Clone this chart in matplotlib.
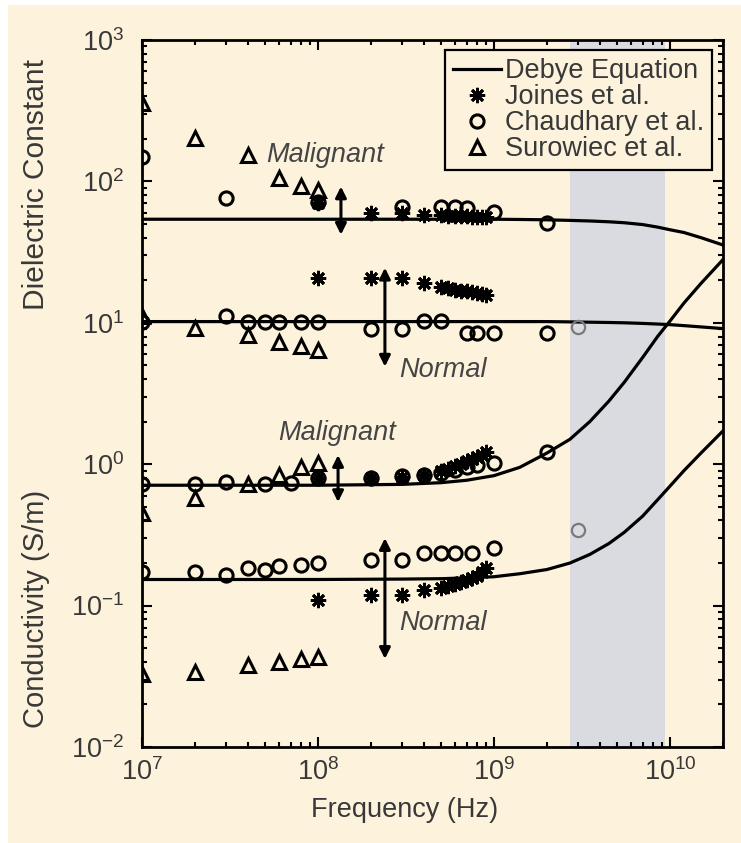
import matplotlib
matplotlib.use('Agg')
import matplotlib.pyplot as plt
from matplotlib.patches import Rectangle
from matplotlib.ticker import LogLocator, NullFormatter

plt.rcParams['font.family'] = ['Liberation Sans', 'DejaVu Sans']
plt.rcParams['mathtext.fontset'] = 'custom'
plt.rcParams['mathtext.rm'] = 'Liberation Sans'
plt.rcParams['mathtext.it'] = 'Liberation Sans:italic'
plt.rcParams['mathtext.default'] = 'regular'

# Debye equation curves (frequency in Hz)
debye_f = [1e7, 1e8, 3e8, 5e8, 7e8, 1e9, 1.4e9, 2e9, 2.7e9, 3.5e9, 4.5e9,
           5.5e9, 7e9, 8.5e9, 1e10, 1.2e10, 1.5e10, 2e10]
debye_eps_mal = [54, 54, 54, 54, 54, 54, 53.8, 53.5, 53, 52.5, 51.8,
                 51, 49.5, 47.5, 45.5, 43.5, 40, 35.5]
debye_eps_nor = [10.2, 10.2, 10.2, 10.2, 10.2, 10.2, 10.2, 10.2, 10.15, 10.1, 10.05,
                 10.0, 9.9, 9.8, 9.7, 9.55, 9.35, 9.1]
debye_sig_mal = [0.71, 0.71, 0.72, 0.74, 0.77, 0.83, 0.95, 1.2, 1.5, 2.0, 2.8,
                 3.8, 5.7, 8.0, 10.3, 13.8, 19.0, 28.0]
debye_sig_nor = [0.153, 0.153, 0.154, 0.155, 0.157, 0.16, 0.168, 0.18, 0.2, 0.23, 0.275,
                 0.33, 0.43, 0.56, 0.7, 0.9, 1.2, 1.72]

# Joines et al.
joines_f = [1e8, 2e8, 3e8, 4e8, 5e8, 5.5e8, 6e8, 6.5e8, 7e8, 7.5e8, 8e8, 8.5e8, 9e8]
joines_eps_mal = [70, 60, 60, 58, 58, 57, 57, 57, 57, 56, 56, 56, 56]
joines_eps_nor = [20.8, 20.8, 20.8, 19.2, 18.0, 17.5, 17.1, 16.9, 16.7, 16.5, 16.3, 16.0, 15.8]
joines_sig_mal = [0.80, 0.80, 0.81, 0.84, 0.90, 0.93, 0.97, 1.01, 1.05, 1.09, 1.13, 1.17, 1.21]
joines_sig_nor = [0.109, 0.118, 0.118, 0.128, 0.133, 0.137, 0.142, 0.147, 0.151, 0.157, 0.163, 0.172, 0.183]

# Chaudhary et al.
chaud_eps_mal_f = [1e7, 3e7, 1e8, 3e8, 5e8, 6e8, 7e8, 1e9, 2e9]
chaud_eps_mal = [150, 76, 72, 66, 66, 66, 65, 61, 51]
chaud_eps_nor_f = [1e7, 3e7, 4e7, 5e7, 6e7, 8e7, 1e8, 2e8, 3e8, 4e8, 5e8, 7e8, 8e8, 1e9, 2e9]
chaud_eps_nor = [10.2, 11.2, 10.2, 10.2, 10.2, 10.2, 10.2, 9.1, 9.1, 10.3, 10.3, 8.5, 8.5, 8.5, 8.5]
chaud_sig_mal_f = [1e7, 2e7, 3e7, 5e7, 7e7, 1e8, 2e8, 3e8, 4e8, 5e8, 6e8, 7e8, 8e8, 1e9, 2e9]
chaud_sig_mal = [0.73, 0.73, 0.75, 0.72, 0.74, 0.80, 0.80, 0.82, 0.84, 0.87, 0.91, 0.95, 0.98, 1.02, 1.22]
chaud_sig_nor_f = [1e7, 2e7, 3e7, 4e7, 5e7, 6e7, 8e7, 1e8, 2e8, 3e8, 4e8, 5e8, 6e8, 7.5e8, 1e9]
chaud_sig_nor = [0.172, 0.172, 0.164, 0.184, 0.18, 0.19, 0.193, 0.2, 0.21, 0.21, 0.235, 0.235, 0.235, 0.235, 0.255]
# points at 3 GHz (normal tissue) inside the shaded band
chaud_band_f = [3e9, 3e9]
chaud_band = [9.3, 0.34]

# Surowiec et al.
sur_f = [1e7, 2e7, 4e7, 6e7, 8e7, 1e8]
sur_eps_mal = [358, 203, 154, 106, 93, 87]
sur_eps_nor = [11.2, 9.2, 8.2, 7.3, 6.8, 6.4]
sur_sig_mal = [0.45, 0.575, 0.73, 0.84, 0.95, 1.02]
sur_sig_nor = [0.033, 0.034, 0.038, 0.040, 0.042, 0.043]

# shaded frequency band
band = (2.7e9, 9.4e9)

cream = '#fdf3dc'
text_col = '#383838'
fs = 19.5

fig = plt.figure(figsize=(7.41, 8.43), dpi=100)
fig.patch.set_facecolor('white')
fig.add_artist(Rectangle((8 / 741, 0), 1, 1 - 5 / 843, transform=fig.transFigure,
                         facecolor=cream, edgecolor='none', zorder=-10))

ax = fig.add_axes([142 / 741, 1 - 747 / 843, 581 / 741, 707 / 843])
ax.set_facecolor(cream)
ax.set_xscale('log')
ax.set_yscale('log')
ax.set_xlim(1e7, 2e10)
ax.set_ylim(1e-2, 1e3)

ax.axvspan(band[0], band[1], color='#d9dbe0', lw=0, zorder=0)

# Debye curves
deb = None
for vals in (debye_eps_mal, debye_eps_nor, debye_sig_mal, debye_sig_nor):
    deb, = ax.plot(debye_f, vals, color='k', lw=2.3, zorder=2)

mk = dict(ls='none', mfc='none', mec='k', zorder=3)
star = (8, 2, 0)

jo = None
for vals in (joines_eps_mal, joines_eps_nor, joines_sig_mal, joines_sig_nor):
    jo, = ax.plot(joines_f, vals, marker=star, ms=11, mew=2.0, **mk)

ch = None
for f, vals in ((chaud_eps_mal_f, chaud_eps_mal), (chaud_eps_nor_f, chaud_eps_nor),
                (chaud_sig_mal_f, chaud_sig_mal), (chaud_sig_nor_f, chaud_sig_nor)):
    ch, = ax.plot(f, vals, marker='o', ms=9.5, mew=2.2, **mk)
ax.plot(chaud_band_f, chaud_band, ls='none', marker='o', ms=9.5, mew=1.6,
        mfc='none', mec='#7a7a7a', zorder=3)

su = None
for vals in (sur_eps_mal, sur_eps_nor, sur_sig_mal, sur_sig_nor):
    su, = ax.plot(sur_f, vals, marker='^', ms=10, mew=2.2, **mk)

# double arrows showing the malignant / normal gap
arrows = [(1.35e8, 42, 92), (2.4e8, 4.9, 24.5), (1.3e8, 0.54, 1.16), (2.4e8, 0.042, 0.30)]
for x, lo, hi in arrows:
    ax.annotate('', xy=(x, hi), xytext=(x, lo),
                arrowprops=dict(arrowstyle='<|-|>', color='k', lw=2.2,
                                mutation_scale=16, shrinkA=0, shrinkB=0), zorder=4)

labels = [(5.1e7, 154, 'Malignant'), (2.9e8, 4.6, 'Normal'),
          (5.9e7, 1.66, 'Malignant'), (2.9e8, 0.075, 'Normal')]
for x, y, s in labels:
    ax.text(x, y, s, style='italic', fontsize=fs, color='#454545', ha='left', va='center')

# axes styling
for sp in ax.spines.values():
    sp.set_linewidth(2.0)
for axis in (ax.xaxis, ax.yaxis):
    axis.set_major_locator(LogLocator(base=10, numticks=12))
    axis.set_minor_locator(LogLocator(base=10, subs=range(2, 10), numticks=30))
    axis.set_minor_formatter(NullFormatter())
ax.tick_params(which='both', direction='in', top=True, right=True, width=1.5,
               labelsize=fs, labelcolor=text_col)
ax.tick_params(which='major', length=7)
ax.tick_params(which='minor', length=3.5)
ax.tick_params(axis='y', pad=13)
ax.tick_params(axis='x', pad=8)

fig.text(405 / 741, 1 - 810 / 843, 'Frequency (Hz)', fontsize=fs, color=text_col,
         ha='center', va='center')
fig.text(36 / 741, 1 - 185 / 843, 'Dielectric Constant', fontsize=21.5, color=text_col,
         ha='center', va='center', rotation=90)
fig.text(36 / 741, 1 - 609 / 843, 'Conductivity (S/m)', fontsize=21, color=text_col,
         ha='center', va='center', rotation=90)

leg = ax.legend([deb, jo, ch, su],
                ['Debye Equation', 'Joines et al.', 'Chaudhary et al.', 'Surowiec et al.'],
                loc='upper right', bbox_to_anchor=(0.981, 0.986), borderaxespad=0,
                fontsize=fs, handlelength=1.75, handletextpad=0.15, labelspacing=0.0,
                borderpad=0.3, fancybox=False, framealpha=1, facecolor=cream,
                edgecolor='k')
leg.get_frame().set_linewidth(1.6)
for t in leg.get_texts():
    t.set_color(text_col)
leg.set_zorder(5)

fig.savefig('out.png', dpi=100, facecolor=fig.get_facecolor())
